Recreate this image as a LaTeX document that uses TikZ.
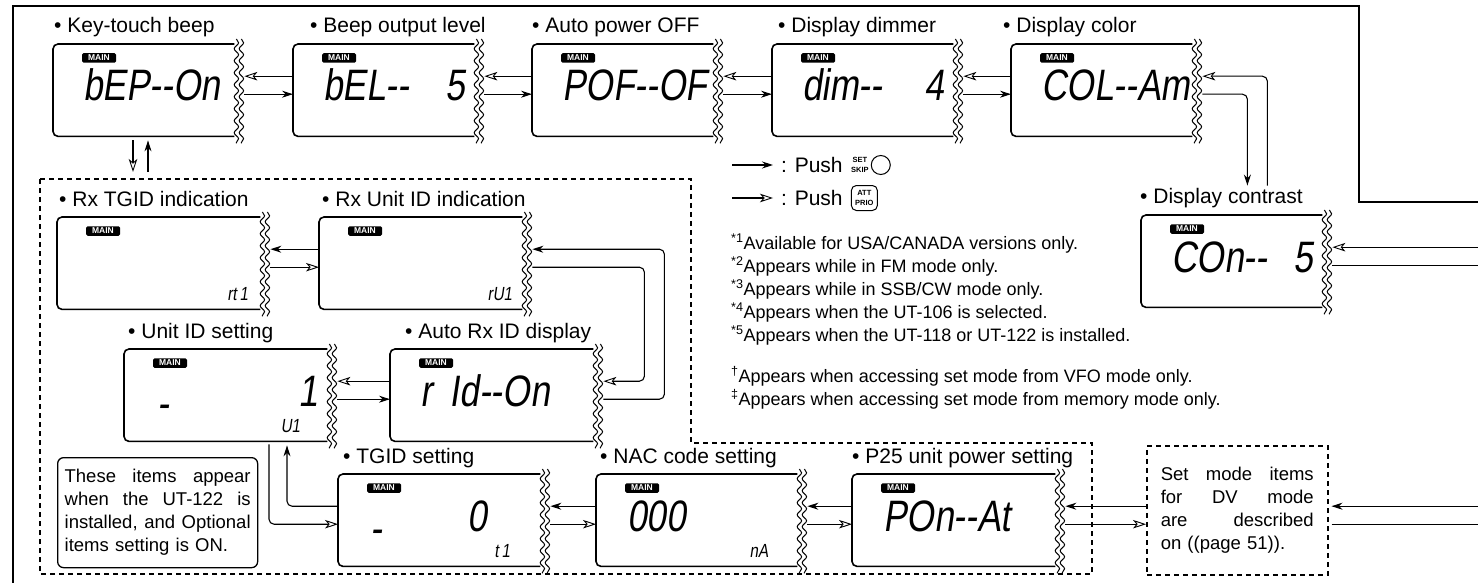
\documentclass[tikz,border=0pt]{standalone}
\usepackage{fontspec}
\setmainfont{Liberation Sans}
\newfontfamily\lcdfont{Liberation Sans}[FakeStretch=0.8,FakeSlant=0.15]
\usetikzlibrary{
  arrows.meta,
  positioning,
  decorations.pathmorphing
}

\begin{document}
\begin{tikzpicture}[
  x=1pt, y=-1pt,
  every node/.style={font=\fontsize{18.5}{23}\selectfont},
  panel/.style={rectangle, minimum height=92, inner sep=0, anchor=north west},
  panelline/.style={line width=1.6pt, rounded corners=5pt},
  breakline/.style={line width=1pt, decorate,
    decoration={snake, segment length=12pt, amplitude=2.2pt}},
  itemlabel/.style={font=\fontsize{21}{24}\selectfont, inner sep=0, anchor=base west},
  mainbadge/.style={fill=black, text=white, rounded corners=1.5pt, inner sep=0,
    minimum width=34, minimum height=9.5, font=\fontsize{8.5}{8.5}\selectfont\bfseries},
  lcdbig/.style={font=\lcdfont\fontsize{44}{44}\selectfont, inner sep=0, anchor=base west},
  lcdsmall/.style={font=\lcdfont\fontsize{19}{19}\selectfont, inner sep=0, anchor=base east},
  setarr/.style={line width=1.1pt, -{Stealth[length=11pt, width=7pt]}},
  attarr/.style={line width=1.1pt,
    -{Stealth[open, length=13pt, width=8.5pt, inset=3.5pt, line width=0.9pt, fill=white]}},
  plainline/.style={line width=1.1pt},
  dashline/.style={line width=1.5pt, dash pattern=on 5pt off 4pt},
  framebox/.style={line width=1.5pt},
  keytext/.style={font=\fontsize{7.5}{9.5}\selectfont\bfseries, inner sep=0, align=center}
]
\useasboundingbox (0,0) rectangle (1478,583);

% Page frame (cut off at the right)
\draw[framebox] (1478,202) -- (1359,202) -- (1359,6) -- (13,6) -- (13,583);

% LCD panels
\foreach \n/\x/\y/\w/\dx/\txt in {
  kbeep/53/44/181/1/Key-touch beep,
  bel/293/44/181/17/Beep output level,
  pof/532/44/181/0/Auto power OFF,
  dim/772/44/181/6/Display dimmer,
  col/1011/44/181/-8/Display color,
  con/1141/215/181/-1/Display contrast,
  rtg/57/217/203/2/Rx TGID indication,
  rui/319/217/203/3/Rx Unit ID indication,
  uid/124/349/203/4/Unit ID setting,
  arx/390/349/203/15/Auto Rx ID display,
  tgid/338/474/202/5/TGID setting,
  nac/596/474/201/4/NAC code setting,
  p25/852/474/203/0/P25 unit power setting}
{
  \node[panel, minimum width=\w] (\n) at (\x,\y) {};
  \draw[panelline] (\n.north east) -- (\n.north west) -- (\n.south west) -- (\n.south east);
  \draw[breakline] ([xshift=2,yshift=5]\n.north east) -- ([xshift=2,yshift=-7]\n.south east);
  \draw[breakline] ([xshift=7,yshift=5]\n.north east) -- ([xshift=7,yshift=-7]\n.south east);
  \node[itemlabel] (\n-lbl) at ([xshift=\dx,yshift=11]\n.north west) {• \txt};
  \node[mainbadge] (\n-main) at ([xshift=46,yshift=-14]\n.north west) {MAIN};
}

% LCD readouts
\node[lcdbig] (kbeep-lcd) at ([xshift=30,yshift=-57]kbeep.north west) {bEP-{}-On};
\node[lcdbig] (bel-lcd) at ([xshift=30,yshift=-57]bel.north west) {\makebox[142pt][l]{bEL-{}-\hfill5}};
\node[lcdbig] (pof-lcd) at ([xshift=30,yshift=-57]pof.north west) {POF-{}-OF};
\node[lcdbig] (dim-lcd) at ([xshift=30,yshift=-57]dim.north west) {\makebox[142pt][l]{dim-{}-\hfill4}};
\node[lcdbig] (col-lcd) at ([xshift=30,yshift=-57]col.north west) {COL-{}-Am};
\node[lcdbig] (con-lcd) at ([xshift=30,yshift=-57]con.north west) {\makebox[142pt][l]{COn-{}-\hfill5}};
\node[lcdbig] (arx-lcd) at ([xshift=30,yshift=-57]arx.north west) {r\hspace{18pt}Id-{}-On};
\node[lcdbig] (uid-dash) at ([xshift=33,yshift=-69]uid.north west) {-};
\node[lcdbig, anchor=base east] (uid-lcd) at ([xshift=-9,yshift=-57]uid.north east) {1};
\node[lcdbig] (tgid-dash) at ([xshift=32,yshift=-69]tgid.north west) {-};
\node[lcdbig, anchor=base east] (tgid-lcd) at ([xshift=-53,yshift=-57]tgid.north east) {0};
\node[lcdbig] (nac-lcd) at ([xshift=31,yshift=-57]nac.north west) {000};
\node[lcdbig] (p25-lcd) at ([xshift=31,yshift=-57]p25.north west) {POn-{}-At};
\node[lcdsmall] (rtg-sub) at ([xshift=-12,yshift=-83]rtg.north east) {rt\,1};
\node[lcdsmall] (rui-sub) at ([xshift=-10,yshift=-83]rui.north east) {rU1};
\node[lcdsmall] (uid-sub) at ([xshift=-27,yshift=-83]uid.north east) {U1};
\node[lcdsmall] (tgid-sub) at ([xshift=-30,yshift=-83]tgid.north east) {t\,1};
\node[lcdsmall] (nac-sub) at ([xshift=-29,yshift=-83]nac.north east) {nA};

% Optional items (dashed area)
\coordinate (optbox) at (40,179);
\draw[dashline] (optbox) -- (691,179) -- (691,443) -- (1092,443) -- (1092,574) -- (40,574) -- cycle;

\node[draw, line width=1.3pt, rounded corners=6pt, anchor=north west, minimum height=110,
      text width=186, inner xsep=7, align=left] (note) at (57,457)
  {\makebox[186pt][l]{These\hfill items\hfill appear}\\
   \makebox[186pt][l]{when\hfill the\hfill UT-122\hfill is}\\
   \makebox[186pt][l]{installed,\hfill and\hfill Optional}\\
   items setting is ON.};

\node[draw, dashline, anchor=north west, minimum height=129,
      text width=153, inner xsep=14, align=left] (setbox) at (1146,445)
  {\makebox[153pt][l]{Set\hfill mode\hfill items}\\
   \makebox[153pt][l]{for\hfill DV\hfill mode}\\
   \makebox[153pt][l]{are\hfill described}\\
   on ((page 51)).};

% Top row
\foreach \a/\b in {kbeep/bel, bel/pof, pof/dim, dim/col} {
  \draw[attarr] ([yshift=14]\b.west) -- ([xshift=10,yshift=14]\a.east);
  \draw[setarr] ([xshift=10,yshift=-4]\a.east) -- ([yshift=-4]\b.west);
}
\draw[setarr, rounded corners=5pt] ([xshift=10,yshift=-4]col.east)
  -| ([xshift=55,yshift=3]col.east |- con-lbl.north);
\draw[attarr, rounded corners=5pt] ([xshift=75,yshift=3]col.east |- con-lbl.north)
  |- ([xshift=10,yshift=14]col.east);

\coordinate (rightedge) at (1478,0);
\draw[attarr] ([yshift=14]con.east -| rightedge) -- ([xshift=10,yshift=14]con.east);
\draw[plainline] ([xshift=10,yshift=-4]con.east) -- ([yshift=-4]con.east -| rightedge);

\draw[attarr] ([xshift=80,yshift=-4]kbeep.south west) -- ([xshift=80,yshift=7]kbeep.south west |- optbox);
\draw[setarr] ([xshift=95,yshift=7]kbeep.south west |- optbox) -- ([xshift=95,yshift=-4]kbeep.south west);

% Inside the dashed area
\draw[setarr] ([yshift=14]rui.west) -- ([xshift=10,yshift=14]rtg.east);
\draw[attarr] ([xshift=10,yshift=-4]rtg.east) -- ([yshift=-4]rui.west);
\draw[attarr] ([yshift=14]arx.west) -- ([xshift=10,yshift=14]uid.east);
\draw[setarr] ([xshift=10,yshift=-4]uid.east) -- ([yshift=-4]arx.west);
\draw[setarr, rounded corners=5pt] ([xshift=10,yshift=-4]arx.east) -- ++(61,0)
  |- ([xshift=10,yshift=14]rui.east);
\draw[attarr, rounded corners=5pt] ([xshift=10,yshift=-4]rui.east) -- ++(112,0)
  |- ([xshift=10,yshift=14]arx.east);
\draw[attarr, rounded corners=5pt] ([xshift=145,yshift=-3]uid.south west) |- ([yshift=-4]tgid.west);
\draw[setarr, rounded corners=5pt] ([yshift=14]tgid.west) -| ([xshift=163,yshift=-4]uid.south west);

% Bottom row
\foreach \a/\b in {tgid/nac, nac/p25} {
  \draw[setarr] ([yshift=14]\b.west) -- ([xshift=10,yshift=14]\a.east);
  \draw[attarr] ([xshift=10,yshift=-4]\a.east) -- ([yshift=-4]\b.west);
}
\draw[setarr] ([yshift=14]p25.east -| setbox.west) -- ([xshift=10,yshift=14]p25.east);
\draw[attarr] ([xshift=10,yshift=-4]p25.east) -- ([yshift=-4]p25.east -| setbox.west);
\draw[setarr] ([yshift=14]p25.east -| rightedge) -- ([xshift=3,yshift=14]p25.east -| setbox.east);
\draw[plainline] ([xshift=3,yshift=-4]p25.east -| setbox.east) -- ([yshift=-4]p25.east -| rightedge);

% Legend
\coordinate (legset) at (732,165);
\coordinate (legatt) at (732,198);
\node[itemlabel, anchor=west] (pushset) at (781,165) {: Push};
\node[keytext, right=8pt of pushset] (setskip) {SET\\SKIP};
\node[draw, circle, line width=1pt, minimum size=19, inner sep=0, right=2pt of setskip] (setkey) {};
\draw[setarr] (legset) -- ([xshift=-8]pushset.west);
\node[itemlabel, anchor=west] (pushatt) at (781,198) {: Push};
\node[draw, line width=1pt, rounded corners=5pt, keytext, inner sep=1pt,
      minimum width=26, minimum height=25, right=8pt of pushatt] (attkey) {ATT\\PRIO};
\draw[attarr] (legatt) -- ([xshift=-8]pushatt.west);

% Footnotes
\node[font=\fontsize{18}{23}\selectfont, align=left, anchor=north west, inner sep=0] (fnotes) at (731,234)
  {\textsuperscript{*1}Available for USA/CANADA versions only.\\
   \textsuperscript{*2}Appears while in FM mode only.\\
   \textsuperscript{*3}Appears while in SSB/CW mode only.\\
   \textsuperscript{*4}Appears when the UT-106 is selected.\\
   \textsuperscript{*5}Appears when the UT-118 or UT-122 is installed.\\[18pt]
   \textsuperscript{†}Appears when accessing set mode from VFO mode only.\\
   \textsuperscript{‡}Appears when accessing set mode from memory mode only.};

\end{tikzpicture}
\end{document}
